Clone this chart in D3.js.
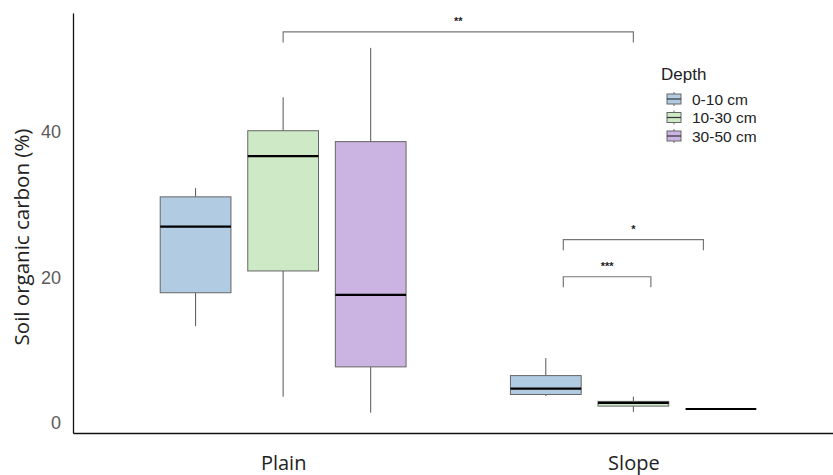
<!DOCTYPE html>
<html>
<head>
<meta charset="utf-8">
<script src="https://cdn.jsdelivr.net/npm/d3@7"></script>
<style>
  body { margin: 0; background: #fff; }
  svg { display: block; }
</style>
</head>
<body>
<svg id="chart"></svg>
<script>
// data
const sites = ['Plain', 'Slope'];
const depths = ['0-10 cm', '10-30 cm', '30-50 cm'];
const yTicks = [0, 20, 40];
// [min, q1, median, q3, max] per site, per depth
const plainStats = [
    [13.3, 17.9, 27.0, 31.1, 32.3],
    [3.6, 20.9, 36.7, 40.2, 44.8],
    [1.4, 7.7, 17.6, 38.7, 51.6]
];
const slopeStats = [
    [3.7, 3.9, 4.7, 6.5, 8.9],
    [1.5, 2.3, 2.75, 2.95, 3.6],
    [1.9, 1.9, 1.9, 1.9, 1.9]
];
// brackets: [site a, depth a, site b, depth b, y, label]
const brackets = [
    ['Plain', 1, 'Slope', 1, 53.8, '**'],
    ['Slope', 0.2, 'Slope', 1.8, 25.2, '*'],
    ['Slope', 0.2, 'Slope', 1.2, 20.1, '***']
];
const colors = ['#b0cbe2', '#cde9c5', '#cbb3e2'];

const W = 833, H = 475;
const margin = { top: 13, right: 0, bottom: 42, left: 73 };
const width = W - margin.left - margin.right;
const height = H - margin.top - margin.bottom;

const svg = d3.select('#chart').attr('width', W).attr('height', H);
const g = svg.append('g').attr('transform', `translate(${margin.left},${margin.top})`);

const x = d3.scaleLinear().domain([0.4, 2.57]).range([0, width]);
const y = d3.scaleLinear().domain([-1.4, 56.4]).range([height, 0]);

const dodge = 0.25, boxW = 0.202;
const xPos = (site, d) => x(sites.indexOf(site) + 1 + (d - 1) * dodge);

const rows = [];
[plainStats, slopeStats].forEach((st, si) => {
    st.forEach((s, di) => rows.push({ site: sites[si], depth: di, s }));
});

const boxes = g.selectAll('.box').data(rows).enter().append('g').attr('class', 'box');
const halfW = (x(boxW) - x(0)) / 2;

boxes.append('line')
    .attr('x1', d => xPos(d.site, d.depth)).attr('x2', d => xPos(d.site, d.depth))
    .attr('y1', d => y(d.s[4])).attr('y2', d => y(d.s[3]))
    .attr('stroke', '#555').attr('stroke-width', 1);
boxes.append('line')
    .attr('x1', d => xPos(d.site, d.depth)).attr('x2', d => xPos(d.site, d.depth))
    .attr('y1', d => y(d.s[1])).attr('y2', d => y(d.s[0]))
    .attr('stroke', '#555').attr('stroke-width', 1);
boxes.append('rect')
    .attr('x', d => xPos(d.site, d.depth) - halfW)
    .attr('width', halfW * 2)
    .attr('y', d => y(d.s[3]))
    .attr('height', d => Math.max(0, y(d.s[1]) - y(d.s[3])))
    .attr('fill', d => colors[d.depth])
    .attr('stroke', '#666').attr('stroke-width', 1);
boxes.append('line')
    .attr('x1', d => xPos(d.site, d.depth) - halfW).attr('x2', d => xPos(d.site, d.depth) + halfW)
    .attr('y1', d => y(d.s[2])).attr('y2', d => y(d.s[2]))
    .attr('stroke', '#000').attr('stroke-width', 2.2);

// significance brackets
const drop = 1.45;
brackets.forEach(b => {
    const x1 = xPos(b[0], b[1]), x2 = xPos(b[2], b[3]);
    const yy = y(b[4]), yd = y(b[4] - drop);
    g.append('path')
        .attr('d', `M${x1},${yd}V${yy}H${x2}V${yd}`)
        .attr('fill', 'none').attr('stroke', '#777').attr('stroke-width', 1.2);
    g.append('text')
        .attr('x', (x1 + x2) / 2).attr('y', yy - 7)
        .attr('text-anchor', 'middle')
        .style('font', 'bold 11px "Liberation Sans", Arial, sans-serif')
        .attr('fill', '#222')
        .text(b[5]);
});

// axes
const yAxis = g.append('g').call(d3.axisLeft(y).tickValues(yTicks).tickSize(0).tickPadding(12));
yAxis.select('.domain').attr('stroke', '#111').attr('stroke-width', 1.3);
yAxis.selectAll('text')
    .style('font', '18px "Liberation Sans", Arial, sans-serif')
    .attr('fill', '#5a5a5a');

const xAxis = g.append('g').attr('transform', `translate(0,${height})`)
    .call(d3.axisBottom(x).tickValues([1, 2]).tickFormat(d => sites[d - 1]).tickSize(0).tickPadding(23));
xAxis.select('.domain').attr('stroke', '#111').attr('stroke-width', 1.3);
xAxis.selectAll('text')
    .style('font', '20px "Open Sans", sans-serif')
    .attr('fill', '#222');

svg.append('text')
    .attr('transform', `translate(29,${margin.top + height / 2 + 14}) rotate(-90)`)
    .attr('text-anchor', 'middle')
    .style('font', '20.5px "Open Sans", sans-serif')
    .attr('fill', '#222')
    .text('Soil organic carbon (%)');

// legend
const legend = svg.append('g').attr('transform', 'translate(661,60)');
legend.append('text').attr('x', 0).attr('y', 20)
    .style('font', '17px "Liberation Sans", Arial, sans-serif')
    .attr('fill', '#222').text('Depth');
const items = legend.selectAll('.item').data(depths).enter().append('g')
    .attr('class', 'item')
    .attr('transform', (d, i) => `translate(0,${39 + i * 18.5})`);
items.append('line').attr('x1', 13).attr('x2', 13).attr('y1', -7).attr('y2', 7)
    .attr('stroke', '#666');
items.append('rect').attr('x', 6).attr('y', -5).attr('width', 14).attr('height', 10)
    .attr('fill', (d, i) => colors[i]).attr('stroke', '#666');
items.append('line').attr('x1', 6).attr('x2', 20).attr('y1', 0).attr('y2', 0)
    .attr('stroke', '#333').attr('stroke-width', 1.2);
items.append('text').attr('x', 31).attr('y', 5.5)
    .style('font', '15.5px "Liberation Sans", Arial, sans-serif')
    .attr('fill', '#222').text(d => d);
</script>
</body>
</html>
